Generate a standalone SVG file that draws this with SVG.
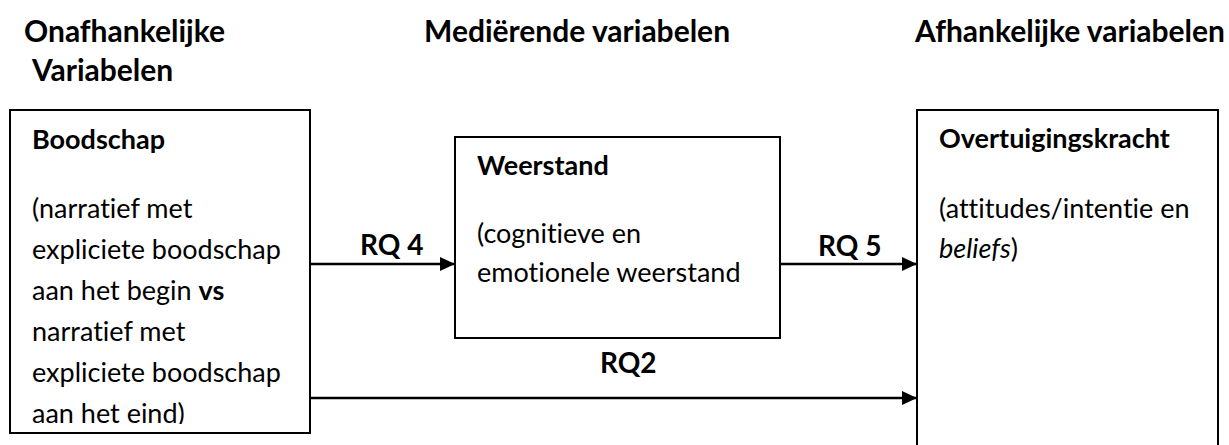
<svg xmlns="http://www.w3.org/2000/svg" width="1229" height="445" viewBox="0 0 1229 445">
  <style>
    text { font-family: Lato, "Open Sans", "Liberation Sans", sans-serif; fill: #000; font-variant-ligatures: none; }
    .hdr { font-size: 30px; font-weight: bold; }
    .ttl { font-size: 27px; font-weight: bold; }
    .body { font-size: 27px; }
    .rq { font-size: 28px; font-weight: bold; }
    .box { fill: #fff; stroke: #000; stroke-width: 2; }
    .edge { stroke: #000; stroke-width: 2.5; fill: none; }
  </style>
  <defs>
    <marker id="arrow" viewBox="0 0 15 14" refX="15" refY="7" markerWidth="15" markerHeight="14" markerUnits="userSpaceOnUse" orient="auto">
      <path d="M0,0 L15,7 L0,14 Z" fill="#000"/>
    </marker>
    <clipPath id="clip-boodschap">
      <rect x="10" y="110" width="300" height="314"/>
    </clipPath>
  </defs>

  <!-- column headers -->
  <g id="headers">
    <text class="hdr" x="24" y="42">Onafhankelijke</text>
    <text class="hdr" x="32" y="81">Variabelen</text>
    <text class="hdr" x="424" y="42">Mediërende variabelen</text>
    <text class="hdr" x="915" y="42">Afhankelijke variabelen</text>
  </g>

  <!-- connectors -->
  <g id="connectors">
    <line class="edge" x1="310" y1="264" x2="455" y2="264" marker-end="url(#arrow)"/>
    <line class="edge" x1="780" y1="264" x2="917" y2="264" marker-end="url(#arrow)"/>
    <line class="edge" x1="310" y1="398" x2="917" y2="398" marker-end="url(#arrow)"/>
    <text class="rq" x="360" y="255">RQ 4</text>
    <text class="rq" x="818" y="256">RQ 5</text>
    <text class="rq" x="600" y="373">RQ2</text>
  </g>

  <!-- independent variable -->
  <g id="boodschap">
    <rect class="box" x="10" y="110" width="300" height="323"/>
    <text class="ttl" x="32" y="149">Boodschap</text>
    <g clip-path="url(#clip-boodschap)">
      <text class="body" x="32" y="218">(narratief met</text>
      <text class="body" x="32" y="259">expliciete boodschap</text>
      <text class="body" x="32" y="300">aan het begin <tspan font-weight="bold">vs</tspan></text>
      <text class="body" x="32" y="341">narratief met</text>
      <text class="body" x="32" y="382">expliciete boodschap</text>
      <text class="body" x="32" y="423">aan het eind)</text>
    </g>
  </g>

  <!-- mediating variable -->
  <g id="weerstand">
    <rect class="box" x="455" y="137" width="325" height="201"/>
    <text class="ttl" x="477" y="175">Weerstand</text>
    <text class="body" x="477" y="243">(cognitieve en</text>
    <text class="body" x="477" y="282">emotionele weerstand</text>
  </g>

  <!-- dependent variable -->
  <g id="overtuigingskracht">
    <rect class="box" x="917" y="110" width="301" height="345"/>
    <text class="ttl" x="939" y="148">Overtuigingskracht</text>
    <text class="body" x="939" y="218">(attitudes/intentie en</text>
    <text class="body" x="939" y="258"><tspan font-style="italic">beliefs</tspan>)</text>
  </g>
</svg>
